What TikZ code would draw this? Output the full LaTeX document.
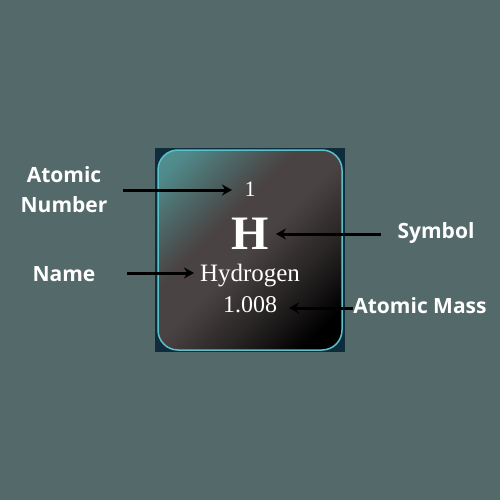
\documentclass[tikz,border=0pt]{standalone}
\usepackage{fontspec}
\setmainfont{Liberation Serif}
\newfontfamily\labelfont{Open Sans}
\usetikzlibrary{arrows.meta}
\definecolor{bgc}{HTML}{546A6A}
\definecolor{tealtop}{HTML}{52A2A2}
\definecolor{midbrown}{HTML}{4A4343}
\definecolor{edgec}{HTML}{5CC0C8}
\definecolor{navy}{HTML}{0E2C3C}
\pgfdeclareverticalshading{tileshade}{100bp}{color(0bp)=(black); color(22bp)=(black); color(36bp)=(midbrown!55!black); color(50bp)=(midbrown); color(60bp)=(midbrown); color(70bp)=(tealtop!35!midbrown); color(80bp)=(tealtop!75!midbrown); color(100bp)=(tealtop)}
\tikzset{
  lbl/.style={font=\labelfont\bfseries\fontsize{21}{30}\selectfont, text=white, align=center, inner sep=0pt},
  elem/.style={text=white, inner sep=0pt},
  pointer/.style={line width=3pt, draw=black, -{Stealth[length=10pt,width=11pt]}}
}
\begin{document}
\begin{tikzpicture}[x=1pt,y=-1pt]
\fill[bgc] (0,0) rectangle (500,500);
\useasboundingbox (0,0) rectangle (500,500);
% tile
\fill[navy] (155,148) rectangle (345,352);
\shade[rounded corners=20pt, shading=tileshade, shading angle=45]
  (158,150) rectangle (342,350);
\draw[edgec, line width=1.5pt, rounded corners=20pt] (158,150) rectangle (342,350);
% element text
\node[elem, font=\fontsize{22}{24}\selectfont] (num) at (250,189) {1};
\node[elem, font=\bfseries\fontsize{48}{50}\selectfont] (sym) at (250,234) {H};
\node[elem, font=\fontsize{25}{27}\selectfont] (name) at (250,276) {Hydrogen};
\node[elem, font=\fontsize{24}{26}\selectfont] (mass) at (250,305) {1.008};
% labels
\node[lbl] (lnum) at (64,190) {Atomic\\Number};
\node[lbl] (lname) at (64,274) {Name};
\node[lbl] (lsym) at (436,233) {Symbol};
\node[lbl] (lmass) at (420,306) {Atomic Mass};
% arrows
\coordinate (a1) at (123,190);
\coordinate (b1) at (232,190);
\draw[pointer] (a1) -- (b1);
\coordinate (a2) at (127,273);
\coordinate (b2) at (194,273);
\draw[pointer] (a2) -- (b2);
\coordinate (a3) at (381,234);
\coordinate (b3) at (276,234);
\draw[pointer] (a3) -- (b3);
\coordinate (a4) at (353,308);
\coordinate (b4) at (289,308);
\draw[pointer] (a4) -- (b4);
\end{tikzpicture}
\end{document}
